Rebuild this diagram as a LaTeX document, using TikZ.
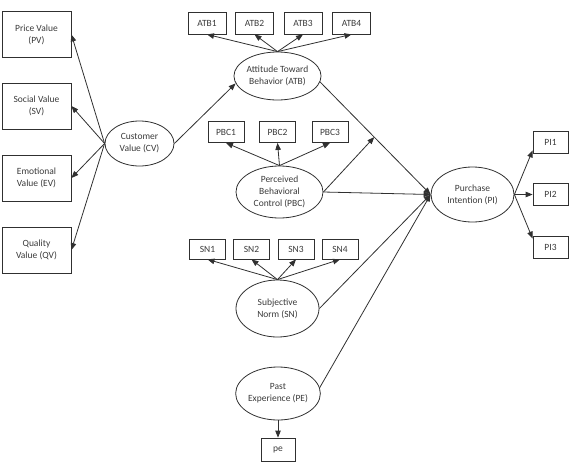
\documentclass[tikz,border=0pt]{standalone}
\usepackage{fontspec}
\setmainfont{Carlito}
\usetikzlibrary{arrows.meta,shapes.geometric,calc}
\definecolor{ln}{HTML}{303030}
\definecolor{tx}{HTML}{3A3A3A}
\begin{document}
\begin{tikzpicture}[x=1pt,y=-1pt,
  every node/.style={font=\fontsize{9.5}{12}\selectfont, text=tx, align=center, inner sep=0pt},
  bigbox/.style={draw=ln, line width=0.8pt, minimum width=69pt, minimum height=46pt},
  smallbox/.style={draw=ln, line width=0.8pt, minimum width=#1, minimum height=21pt},
  latent/.style={draw=ln, line width=0.8pt, ellipse},
  arr/.style={draw=ln, line width=0.8pt, -{Triangle[length=7pt,width=5.5pt]}},
  plain/.style={draw=ln, line width=0.8pt}]
\useasboundingbox (0,0) rectangle (570,469);
% left boxes
\node[bigbox] (pv) at (36.5,34.5) {Price Value\\(PV)};
\node[bigbox] (sv) at (36.5,106) {Social Value\\(SV)};
\node[bigbox] (ev) at (36.5,178) {Emotional\\Value (EV)};
\node[bigbox] (qv) at (36.5,250) {Quality\\Value (QV)};
% latent variables
\node[latent, minimum width=69pt, minimum height=45pt] (cv) at (139.5,143.5) {Customer\\Value (CV)};
\node[latent, minimum width=83pt, minimum height=48pt] (atb) at (277.5,76) {Attitude Toward\\Behavior (ATB)};
\node[latent, minimum width=87pt, minimum height=52pt] (pbc) at (279.5,192) {Perceived\\Behavioral\\Control (PBC)};
\node[latent, minimum width=83pt, minimum height=57pt] (sn) at (277.5,308.5) {Subjective\\Norm (SN)};
\node[latent, minimum width=84pt, minimum height=53pt] (pe) at (278,393.5) {Past\\Experience (PE)};
\node[latent, minimum width=83pt, minimum height=55pt] (pi) at (472.5,194.5) {Purchase\\Intention (PI)};
% indicators
\node[smallbox=38pt, minimum height=22pt] (atb1) at (207,23) {ATB1};
\node[smallbox=38pt, minimum height=22pt] (atb2) at (254.5,23) {ATB2};
\node[smallbox=38pt, minimum height=22pt] (atb3) at (303,23) {ATB3};
\node[smallbox=38pt, minimum height=22pt] (atb4) at (351.5,23) {ATB4};
\node[smallbox=36pt] (pbc1) at (226,132) {PBC1};
\node[smallbox=36pt] (pbc2) at (277.5,132) {PBC2};
\node[smallbox=36pt] (pbc3) at (330,132) {PBC3};
\node[smallbox=36pt, minimum height=20pt] (sn1) at (207.5,249) {SN1};
\node[smallbox=36pt, minimum height=20pt] (sn2) at (251.5,249) {SN2};
\node[smallbox=36pt, minimum height=20pt] (sn3) at (296,249) {SN3};
\node[smallbox=36pt, minimum height=20pt] (sn4) at (340,249) {SN4};
\node[smallbox=34pt, minimum height=23pt] (peb) at (278,449.5) {pe};
\node[smallbox=35pt, minimum height=22pt] (pi1) at (550.5,142) {PI1};
\node[smallbox=35pt, minimum height=22pt] (pi2) at (550.5,194.5) {PI2};
\node[smallbox=35pt, minimum height=22pt] (pi3) at (550.5,247) {PI3};
% CV arrows
\draw[arr] (cv.west) -- (pv.east);
\draw[arr] (cv.west) -- (sv.east);
\draw[arr] (cv.west) -- (ev.east);
\draw[arr] (cv.west) -- (qv.east);
\draw[arr] (cv.east) -- (atb.190);
% indicators
\foreach \i in {1,2,3,4} \draw[arr] (atb.north) -- (atb\i.south);
\foreach \i in {1,2,3} \draw[arr] (pbc.north) -- (pbc\i.south);
\foreach \i in {1,2,3,4} \draw[arr] (sn.north) -- (sn\i.south);
\draw[arr] (pe) -- (peb);
% structural paths
\draw[arr] (atb.-8) -- (pi.west);
\coordinate (mod) at ($(atb.-8)!0.49!(pi.west)$);
\draw[arr] (pbc.east) -- (mod);
\draw[arr] (pbc.east) -- (pi.west);
\draw[arr] (sn.east) -- (pi.west);
\draw[arr] (pe.8) -- (pi.west);
% PI indicators
\draw[arr] (pi.east) -- ($(pi1.south west)+(0,-3)$);
\draw[arr] (pi.east) -- (pi2.west);
\draw[arr] (pi.east) -- ($(pi3.north west)+(0,3)$);
\end{tikzpicture}
\end{document}
